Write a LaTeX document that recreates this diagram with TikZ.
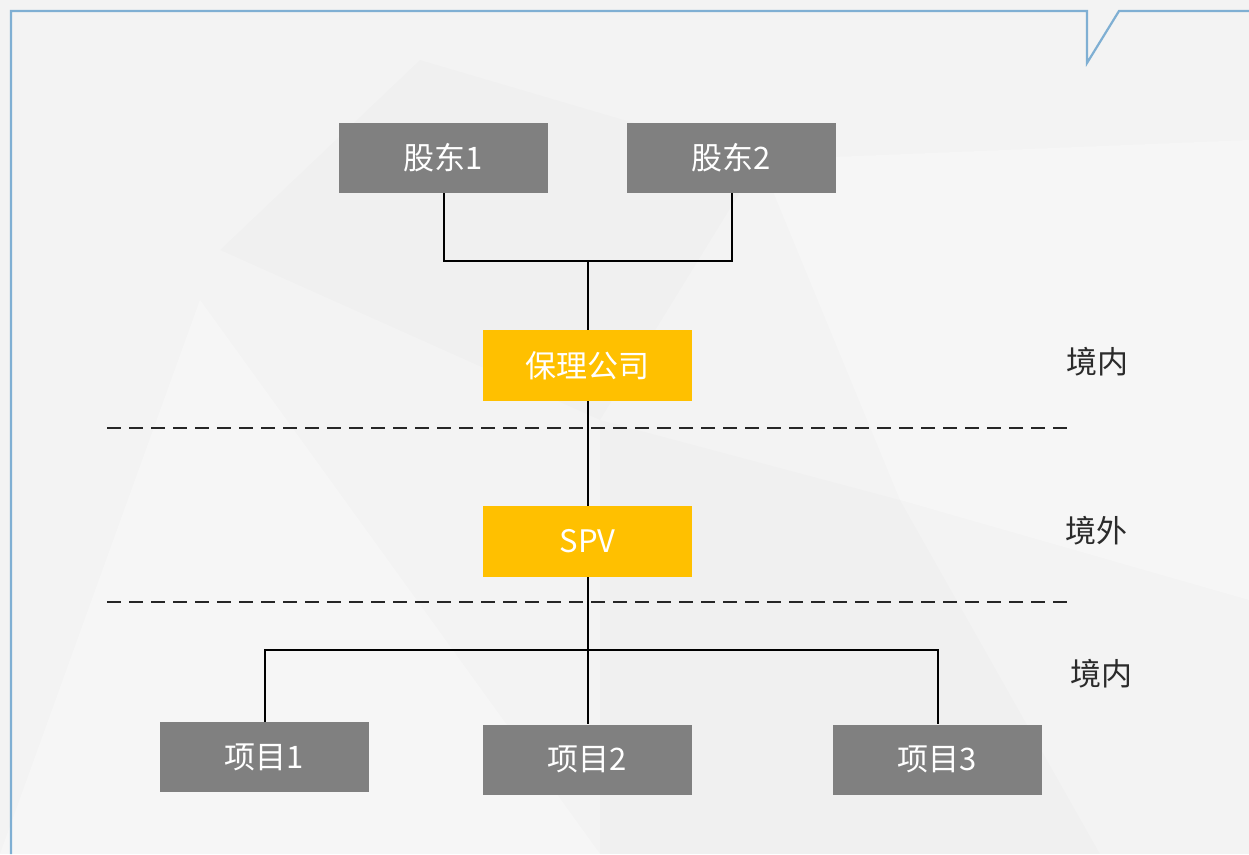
\documentclass[tikz,border=0pt]{standalone}
\usepackage{fontspec}
\setmainfont{Noto Sans CJK SC}
\definecolor{boxgray}{HTML}{808080}
\definecolor{boxyellow}{HTML}{FFC000}
\definecolor{framecol}{HTML}{7FAFD3}
\definecolor{bgcol}{HTML}{F3F3F3}
\definecolor{labcol}{HTML}{2B2B2B}
\tikzset{
  gbox/.style={fill=boxgray, minimum width=209pt, minimum height=70pt, inner sep=0pt, text=white, font=\fontsize{31pt}{36pt}\selectfont},
  ybox/.style={fill=boxyellow, minimum width=209pt, minimum height=71pt, inner sep=0pt, text=white, font=\fontsize{31pt}{36pt}\selectfont},
  zone/.style={text=labcol, font=\fontsize{31pt}{36pt}\selectfont},
  link/.style={line width=2pt, black},
  divider/.style={line width=2pt, black!85, dash pattern=on 14pt off 8pt},
}
\begin{document}
\begin{tikzpicture}[x=1pt,y=-1pt]
\useasboundingbox (0,0) rectangle (1249,854);
\fill[bgcol] (0,0) rectangle (1249,854);
% faint background facets
\fill[white,opacity=0.3] (0,854) -- (200,300) -- (600,854) -- cycle;
\fill[black,opacity=0.012] (220,250) -- (420,60) -- (760,160) -- (600,420) -- cycle;
\fill[white,opacity=0.25] (760,160) -- (1249,140) -- (1249,600) -- (900,500) -- cycle;
\fill[black,opacity=0.01] (600,420) -- (900,500) -- (1100,854) -- (600,854) -- cycle;
% frame with notch
\draw[framecol, line width=2.2pt] (11,854) -- (11,11) -- (1087,11) -- (1087,63) -- (1119,11) -- (1249,11);
% nodes
\node[gbox] (s1) at (443.5,158) {股东1};
\node[gbox] (s2) at (731.5,158) {股东2};
\node[ybox] (f) at (587.5,365.5) {保理公司};
\node[ybox] (spv) at (587.5,541.5) {SPV};
\node[gbox] (p1) at (264.5,757) {项目1};
\node[gbox] (p2) at (587.5,759.5) {项目2};
\node[gbox] (p3) at (937.5,759.5) {项目3};
% zone labels
\node[zone] (z1) at (1097,362) {境内};
\node[zone] (z2) at (1096,531) {境外};
\node[zone] (z3) at (1101,674) {境内};
% junctions
\coordinate (j1) at (587.5,261);
\coordinate (j2) at (587.5,650);
% connectors
\draw[link] (s1.south) |- (j1);
\draw[link] (s2.south) |- (j1);
\draw[link] (j1) -- (f.north);
\draw[link] (f.south) -- (spv.north);
\draw[link] (spv.south) -- (j2);
\draw[link] (j2) -| (p1.north);
\draw[link] (j2) -| (p3.north);
\draw[link] (j2) -- (p2.north);
% dividers
\coordinate (d1a) at (107,428); \coordinate (d1b) at (1067,428);
\coordinate (d2a) at (107,602); \coordinate (d2b) at (1067,602);
\draw[divider] (d1a) -- (d1b);
\draw[divider] (d2a) -- (d2b);
\end{tikzpicture}
\end{document}
